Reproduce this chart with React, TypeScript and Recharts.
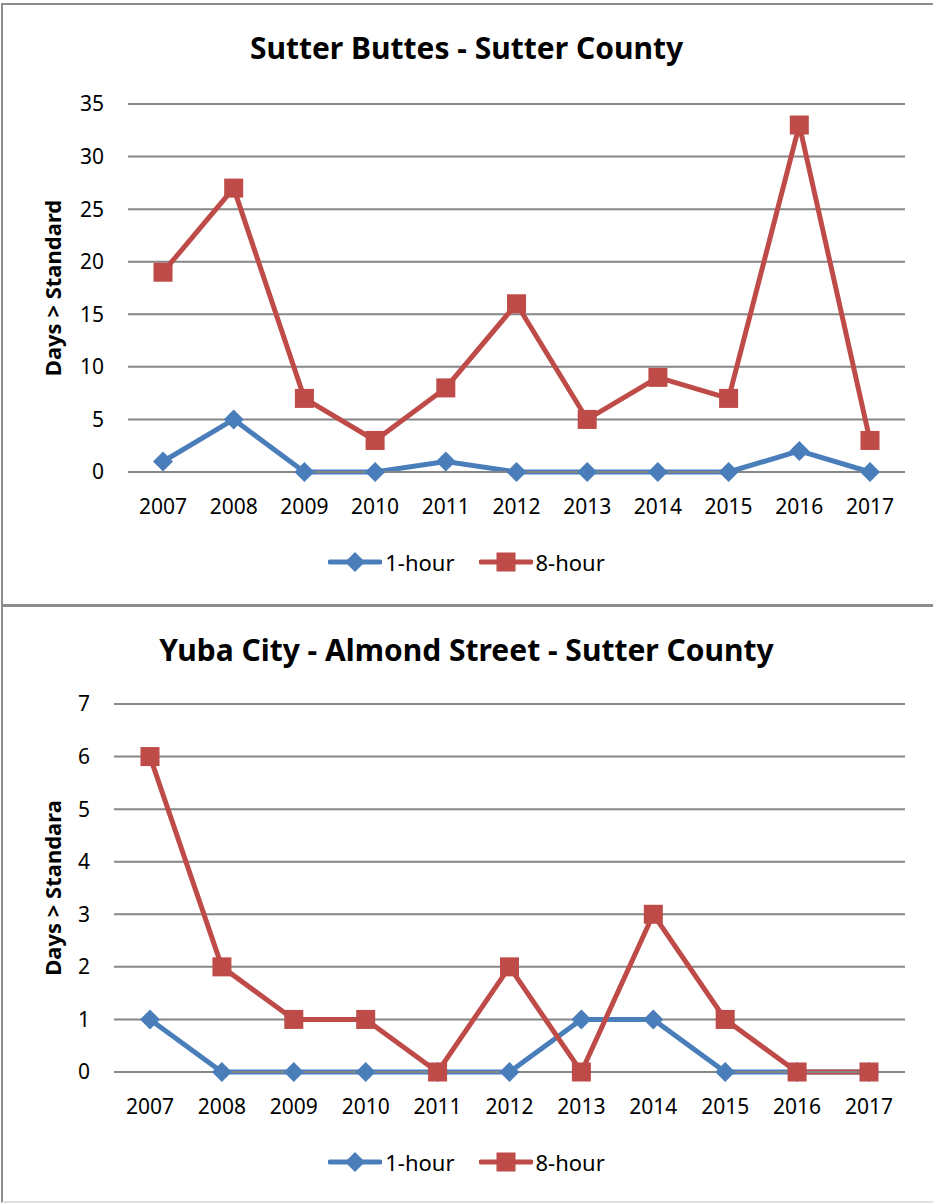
import React from 'react';
import { LineChart, Line, XAxis, YAxis, CartesianGrid, Legend } from 'recharts';

const years = ['2007', '2008', '2009', '2010', '2011', '2012', '2013', '2014', '2015', '2016', '2017'];

// Sutter Buttes
const buttesOneHour = [1, 5, 0, 0, 1, 0, 0, 0, 0, 2, 0];
const buttesEightHour = [19, 27, 7, 3, 8, 16, 5, 9, 7, 33, 3];
const buttesTicks = [0, 5, 10, 15, 20, 25, 30, 35];

// Yuba City - Almond Street
const yubaOneHour = [1, 0, 0, 0, 0, 0, 1, 1, 0, 0, 0];
const yubaEightHour = [6, 2, 1, 1, 0, 2, 0, 3, 1, 0, 0];
const yubaTicks = [0, 1, 2, 3, 4, 5, 6, 7];

const BLUE = '#4a7ebb';
const RED = '#be4b48';
const GRID = '#868686';
const FONT = '"Noto Sans", sans-serif';

const Diamond = (props: any) => {
  const { cx, cy, fill, size = 10 } = props;
  if (cx == null || cy == null) return null;
  return <path d={`M${cx},${cy - size} L${cx + size},${cy} L${cx},${cy + size} L${cx - size},${cy} Z`} fill={fill} />;
};

const Square = (props: any) => {
  const { cx, cy, fill, size = 9.5 } = props;
  if (cx == null || cy == null) return null;
  return <rect x={cx - size} y={cy - size} width={size * 2} height={size * 2} fill={fill} />;
};

const LegendBox = () => (
  <div style={{ display: 'flex', justifyContent: 'center', alignItems: 'center', fontFamily: FONT, fontSize: 22, color: '#000' }}>
    <svg width={54} height={24}>
      <line x1={2} y1={12} x2={52} y2={12} stroke={BLUE} strokeWidth={5} strokeLinecap="round" />
      <Diamond cx={27} cy={12} fill={BLUE} size={10} />
    </svg>
    <span style={{ marginLeft: 3, marginRight: 24 }}>1-hour</span>
    <svg width={54} height={24}>
      <line x1={2} y1={12} x2={52} y2={12} stroke={RED} strokeWidth={5} strokeLinecap="round" />
      <Square cx={27} cy={12} fill={RED} size={9.5} />
    </svg>
    <span style={{ marginLeft: 3 }}>8-hour</span>
  </div>
);

type PanelProps = {
  title: string;
  yLabel: string;
  one: number[];
  eight: number[];
  ticks: number[];
  top: number;
  height: number;
  plotLeft: number;
  plotTop: number;
  plotBottom: number;
  pad: number;
  legendTop: number;
  titleTop: number;
};

const Panel = ({ title, yLabel, one, eight, ticks, top, height, plotLeft, plotTop, plotBottom, pad, legendTop, titleTop }: PanelProps) => {
  const data = years.map((y, i) => ({ year: y, one: one[i], eight: eight[i] }));
  const max = ticks[ticks.length - 1];
  return (
    <div style={{ position: 'absolute', left: 0, top, width: 933, height }}>
      <LineChart
        width={933}
        height={height}
        data={data}
        margin={{ top: plotTop, right: 28, left: 0, bottom: height - plotBottom - 30 }}
      >
        <CartesianGrid vertical={false} stroke={GRID} strokeWidth={2} />
        <XAxis
          dataKey="year"
          height={30}
          padding={{ left: pad, right: pad }}
          axisLine={{ stroke: GRID, strokeWidth: 2 }}
          tickLine={false}
          tickSize={0}
          tickMargin={27}
          interval={0}
          tick={{ fill: '#000', fontSize: 21, fontFamily: FONT }}
        />
        <YAxis
          width={plotLeft}
          domain={[0, max]}
          ticks={ticks}
          interval={0}
          axisLine={false}
          tickLine={false}
          tickSize={0}
          tickMargin={24}
          tick={{ fill: '#000', fontSize: 21, fontFamily: FONT }}
        />
        <Legend verticalAlign="middle" align="center" wrapperStyle={{ top: legendTop, left: 0, width: 933 }} content={() => <LegendBox />} />
        <Line
          dataKey="one"
          stroke={BLUE}
          strokeWidth={5}
          dot={<Diamond fill={BLUE} size={10} />}
          activeDot={false}
          isAnimationActive={false}
        />
        <Line
          dataKey="eight"
          stroke={RED}
          strokeWidth={5}
          dot={<Square fill={RED} size={9.5} />}
          activeDot={false}
          isAnimationActive={false}
        />
      </LineChart>
      <div
        style={{
          position: 'absolute',
          left: 0,
          width: 933,
          top: titleTop,
          textAlign: 'center',
          fontFamily: FONT,
          fontWeight: 700,
          fontSize: 30,
          lineHeight: '40px',
          color: '#000',
          pointerEvents: 'none',
        }}
      >
        {title}
      </div>
      <div
        style={{
          position: 'absolute',
          left: 52,
          top: (plotTop + plotBottom) / 2,
          transform: 'translate(-50%, -50%) rotate(-90deg)',
          whiteSpace: 'nowrap',
          fontFamily: FONT,
          fontWeight: 700,
          fontSize: 22,
          color: '#000',
        }}
      >
        {yLabel}
      </div>
    </div>
  );
};

export default function App() {
  return (
    <div style={{ position: 'absolute', left: 0, top: 0, width: 933, height: 1203, background: '#fff', overflow: 'hidden' }}>
      <div style={{ position: 'absolute', left: 1, top: 3, width: 950, height: 599, border: '2px solid #8c8c8c' }} />
      <div style={{ position: 'absolute', left: 1, top: 605, width: 950, height: 594, borderLeft: '2px solid #8c8c8c', borderTop: '2px solid #8c8c8c', borderBottom: '2px solid #e0e0e0' }} />
      <Panel
        title="Sutter Buttes - Sutter County"
        yLabel="Days > Standard"
        one={buttesOneHour}
        eight={buttesEightHour}
        ticks={buttesTicks}
        top={0}
        height={603}
        plotLeft={128}
        plotTop={104}
        plotBottom={472}
        pad={35}
        legendTop={547}
        titleTop={28}
      />
      <Panel
        title="Yuba City - Almond Street - Sutter County"
        yLabel="Days > Standara"
        one={yubaOneHour}
        eight={yubaEightHour}
        ticks={yubaTicks}
        top={603}
        height={600}
        plotLeft={114}
        plotTop={101}
        plotBottom={469}
        pad={36}
        legendTop={544}
        titleTop={27}
      />
    </div>
  );
}
